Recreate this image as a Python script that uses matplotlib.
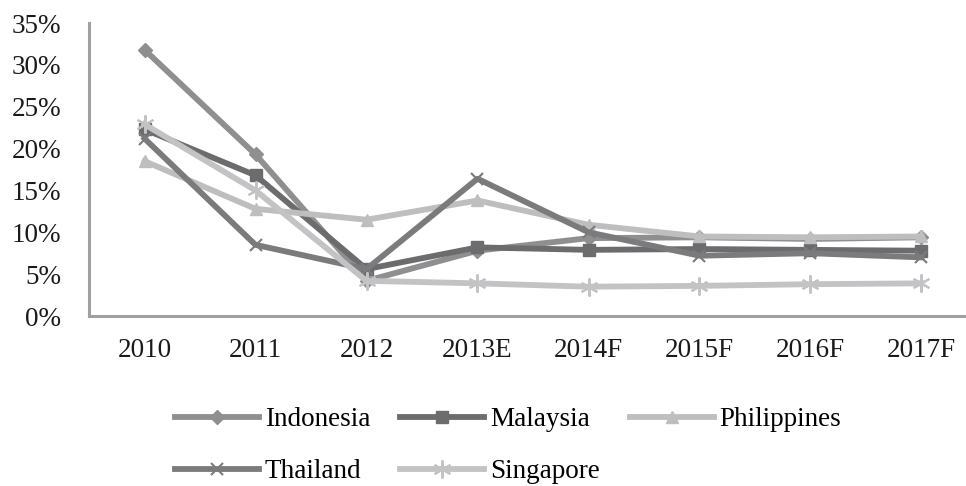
import matplotlib.pyplot as plt
import numpy as np

plt.rcParams['font.family'] = ['Liberation Serif', 'DejaVu Serif']

years = ['2010', '2011', '2012', '2013E', '2014F', '2015F', '2016F', '2017F']

# growth rates (%)
indonesia = [31.8, 19.3, 4.2, 7.8, 9.3, 9.4, 9.2, 9.4]
malaysia = [22.3, 16.8, 5.6, 8.2, 7.9, 8.0, 7.9, 7.8]
philippines = [18.5, 12.8, 11.5, 13.8, 10.9, 9.5, 9.4, 9.5]
thailand = [21.2, 8.5, 5.6, 16.4, 10.0, 7.2, 7.5, 7.0]
singapore = [22.9, 15.0, 4.2, 3.9, 3.5, 3.6, 3.8, 3.9]

fig = plt.figure(figsize=(9.66, 4.86), dpi=100)
ax = fig.add_axes([89 / 966, 1 - 316 / 486, 888 / 966, 293 / 486])

x = np.arange(len(years))
lw = 4.2
l1, = ax.plot(x, indonesia, color='#8f8f90', lw=lw, marker='D', ms=7, label='Indonesia')
l2, = ax.plot(x, malaysia, color='#6c6c6e', lw=lw, marker='s', ms=9, label='Malaysia')
l3, = ax.plot(x, philippines, color='#bebebf', lw=lw, marker='^', ms=9, label='Philippines')
l4, = ax.plot(x, thailand, color='#7b7b7d', lw=lw, marker='x', ms=9, mew=1.5, label='Thailand')
l5, = ax.plot(x, singapore, color='#c3c3c5', lw=lw, marker=(6, 2, 0), ms=13, mew=1.5, label='Singapore')

ax.set_xlim(-0.5, 7.5)
ax.set_ylim(0, 35)
ax.set_xticks(x)
ax.set_xticklabels(years)
ax.set_yticks(np.arange(0, 36, 5))
ax.set_yticklabels(['{}%'.format(v) for v in range(0, 36, 5)])
ax.tick_params(length=0, labelsize=19.5, labelcolor='#1a1a1a')
ax.tick_params(axis='x', pad=16)
ax.tick_params(axis='y', pad=20)

for s in ['top', 'right']:
    ax.spines[s].set_visible(False)
for s in ['left', 'bottom']:
    ax.spines[s].set_color('#a0a0a0')
    ax.spines[s].set_linewidth(2.2)

# legend filled row by row: Indonesia, Malaysia, Philippines / Thailand, Singapore
handles = [l1, l4, l2, l5, l3]
fig.legend(handles, [h.get_label() for h in handles], loc='upper left',
           bbox_to_anchor=(175 / 966, 1 - 407 / 486), ncol=3,
           frameon=False, fontsize=19.5, handlelength=3.1, handletextpad=0.22,
           columnspacing=1.1, labelspacing=1.0, borderpad=0, borderaxespad=0)

fig.savefig('out.png', dpi=100)
